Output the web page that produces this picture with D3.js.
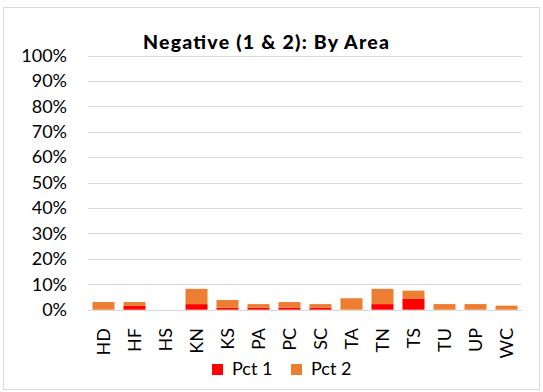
<!DOCTYPE html>
<html><head><meta charset="utf-8">
<script src="https://cdn.jsdelivr.net/npm/d3@7"></script>
<style>body{margin:0;background:#fff}svg{display:block}text{font-family:Lato,"Open Sans",sans-serif;fill:#000}</style>
</head><body><svg id="c" width="543" height="392"></svg>
<script>
const categories = ["HD","HF","HS","KN","KS","PA","PC","SC","TA","TN","TS","TU","UP","WC"];
const pct1 = [0, 1.5, 0, 2.2, 0.8, 0.8, 0.8, 0.8, 0, 2.2, 4.3, 0, 0, 0];
const pct2 = [3.0, 1.5, 0, 6.0, 3.0, 1.4, 2.2, 1.4, 4.5, 6.0, 3.2, 2.2, 2.2, 1.6];
const yTicks = [0,10,20,30,40,50,60,70,80,90,100];
const seriesNames = ["Pct 1","Pct 2"];
const colors = ["#FF0000","#ED7D31"];

const svg = d3.select("#c");
svg.append("rect").attr("x",3.5).attr("y",7.5).attr("width",536).attr("height",382)
  .attr("fill","#fff").attr("stroke","#D9D9D9");

const x = d3.scaleBand().domain(categories).range([88,522]).paddingInner(0.29).paddingOuter(0.145);
const y = d3.scaleLinear().domain([0,100]).range([309.7,55.5]);

svg.append("g").selectAll("line").data(yTicks).join("line")
  .attr("x1",88).attr("x2",522).attr("y1",d=>Math.round(y(d))+0.5).attr("y2",d=>Math.round(y(d))+0.5)
  .attr("stroke","#D9D9D9").attr("stroke-width",1);

const yAxis = d3.axisLeft(y).tickValues(yTicks).tickFormat(d=>d+"%").tickSize(0).tickPadding(0);
const ga = svg.append("g").attr("transform","translate(67,0)").call(yAxis);
ga.select(".domain").remove();
ga.selectAll("text").attr("font-size",18).attr("font-family","Lato,sans-serif").attr("fill","#000");

const stackData = categories.map((c,i)=>({cat:c, p1:pct1[i], p2:pct2[i]}));
const stack = d3.stack().keys(["p1","p2"])(stackData);
svg.append("g").selectAll("g").data(stack).join("g").attr("fill",(d,i)=>colors[i])
  .selectAll("rect").data(d=>d).join("rect")
  .attr("x",d=>x(d.data.cat)).attr("width",x.bandwidth())
  .attr("y",d=>y(d[1])).attr("height",d=>y(d[0])-y(d[1]));

const xAxis = d3.axisBottom(x).tickSize(0).tickPadding(0);
const gx = svg.append("g").attr("transform","translate(0,328)").call(xAxis);
gx.select(".domain").remove();
gx.selectAll("text").attr("font-size",18).attr("font-family","Lato,sans-serif").attr("fill","#000")
  .attr("transform","rotate(-90)").attr("text-anchor","end").attr("dy","0.35em").attr("x",0).attr("y",0);

svg.append("text").attr("x",266).attr("y",49).attr("text-anchor","middle")
  .attr("font-size",19.5).attr("font-weight",900).attr("textLength",246).attr("lengthAdjust","spacing")
  .text("Negative (1 & 2): By Area");

const lg = svg.append("g");
const lx = [212, 291];
seriesNames.forEach((n,i)=>{
  lg.append("rect").attr("x",lx[i]).attr("y",364).attr("width",11).attr("height",11).attr("fill",colors[i]);
  lg.append("text").attr("x",lx[i]+20).attr("y",375).attr("font-size",18).text(n);
});
</script></body></html>
